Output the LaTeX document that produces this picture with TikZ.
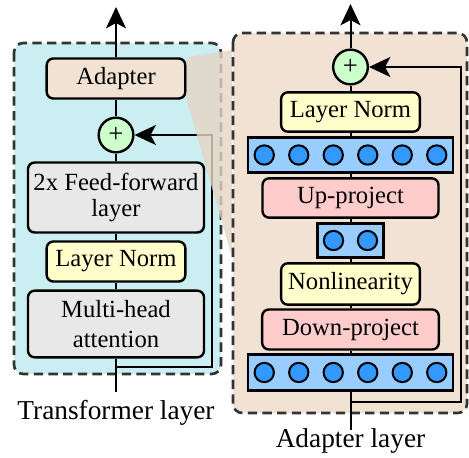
\documentclass[tikz,border=0pt]{standalone}
\usepackage{fontspec}
\setmainfont{Liberation Serif}
\usetikzlibrary{arrows.meta}
\definecolor{panelL}{HTML}{CBEEF3}
\definecolor{panelR}{HTML}{F2E2D4}
\definecolor{adaptfill}{HTML}{F2E2D4}
\definecolor{plusfill}{HTML}{CCFFCC}
\definecolor{normfill}{HTML}{FFFFCC}
\definecolor{projfill}{HTML}{FFCCCC}
\definecolor{greyfill}{HTML}{E8E8E8}
\definecolor{barfill}{HTML}{99CCFF}
\definecolor{neuronfill}{HTML}{3399FF}
\definecolor{trapfill}{HTML}{E5D6C4}
\tikzset{
  box/.style={draw, line width=1.8pt, rounded corners=5pt, inner sep=0pt, align=center,
    font=\fontsize{18.5}{19}\selectfont},
  circ/.style={circle, draw, fill=plusfill, line width=1.8pt, minimum size=26pt, inner sep=0pt,
    font=\fontsize{20}{20}\selectfont},
  barbox/.style={draw, fill=barfill, line width=1.8pt, inner sep=0pt},
  neuron/.style={circle, draw, fill=neuronfill, line width=1.5pt, minimum size=14.5pt, inner sep=0pt},
  conn/.style={line width=1.5pt},
  arr/.style={line width=1.5pt, -{Stealth[length=16pt,width=15pt,inset=4pt]}},
  panel/.style={draw=black!80, line width=2pt, dash pattern=on 7pt off 4pt, rounded corners=7pt},
  lab/.style={font=\fontsize{20.5}{24}\selectfont}
}
\begin{document}
\begin{tikzpicture}[x=0.75pt,y=-0.75pt]
\useasboundingbox (0,0) rectangle (469,458);
% left panel
\draw[panel, fill=panelL] (14,43) rectangle (221,374);
\node[box, fill=adaptfill, minimum width=104pt, minimum height=30pt] (adL) at (116,78.5) {Adapter};
\node[circ] (plL) at (116,135) {+};
\node[box, fill=greyfill, minimum width=132pt, minimum height=52.5pt] (ffL) at (116,197.5) {2x Feed-forward\\layer};
\node[box, fill=normfill, minimum width=104pt, minimum height=30pt] (lnL) at (116,261.5) {Layer Norm};
\node[box, fill=greyfill, minimum width=132pt, minimum height=50pt, font=\fontsize{18.5}{22.5}\selectfont] (mhL) at (116,324) {Multi-head\\attention};
\coordinate (Ltop) at (116,7);
\coordinate (Lbot) at (116,392);
\coordinate (Ljoin) at (116,367);
\coordinate (Lcorner) at (212,135);
\draw[arr] (adL.north) -- (Ltop);
\draw[conn] (plL) -- (adL);
\draw[conn] (ffL) -- (plL);
\draw[conn] (lnL) -- (ffL);
\draw[conn] (mhL) -- (lnL);
\draw[conn] (Lbot) -- (mhL.south);
\draw[arr] (Ljoin) -| (Lcorner) -- (plL.east);
\node[lab] (labL) at (116,413) {Transformer layer};
% zoom trapezoid
\coordinate (trTR) at (232,50);
\coordinate (trBR) at (232,257);
\fill[trapfill, opacity=0.8] (adL.north east) -- (trTR) -- (trBR) -- (adL.south east) -- cycle;
% right panel
\draw[panel, fill=panelR] (233,33) rectangle (467,413);
\node[circ] (plR) at (350.5,67) {+};
\node[box, fill=normfill, minimum width=104pt, minimum height=29.5pt] (lnR) at (350.5,112) {Layer Norm};
\node[barbox, minimum width=153.5pt, minimum height=26.5pt] (b1) at (350.5,155) {};
\node[box, fill=projfill, minimum width=132pt, minimum height=29.5pt] (up) at (350.5,198) {Up-project};
\node[barbox, minimum width=49.5pt, minimum height=25.5pt] (b2) at (350.5,240.5) {};
\node[box, fill=normfill, minimum width=104pt, minimum height=31pt] (nl) at (350.5,284) {Nonlinearity};
\node[box, fill=projfill, minimum width=132.5pt, minimum height=30pt] (dp) at (350.5,329.5) {Down-project};
\node[barbox, minimum width=153.5pt, minimum height=27pt] (b3) at (350.5,372.5) {};
\foreach \k in {1,...,6} {
  \node[neuron] (na\k) at ({350.5+(\k-3.5)*34.5},155) {};
  \node[neuron] (nc\k) at ({350.5+(\k-3.5)*34.5},372.5) {};
}
\node[neuron] (nb1) at (333.5,240.5) {};
\node[neuron] (nb2) at (367.5,240.5) {};
\coordinate (Rtop) at (350.5,4);
\coordinate (Rbot) at (350.5,430);
\coordinate (Rjoin) at (350.5,402);
\coordinate (Rcorner) at (461,67);
\draw[arr] (plR.north) -- (Rtop);
\draw[conn] (lnR) -- (plR);
\draw[conn] (b1) -- (lnR);
\draw[conn] (up) -- (b1);
\draw[conn] (b2) -- (up);
\draw[conn] (nl) -- (b2);
\draw[conn] (dp) -- (nl);
\draw[conn] (b3) -- (dp);
\draw[conn] (Rbot) -- (b3.south);
\draw[arr] (Rjoin) -| (Rcorner) -- (plR.east);
\node[lab] (labR) at (350.5,441) {Adapter layer};
\end{tikzpicture}
\end{document}
